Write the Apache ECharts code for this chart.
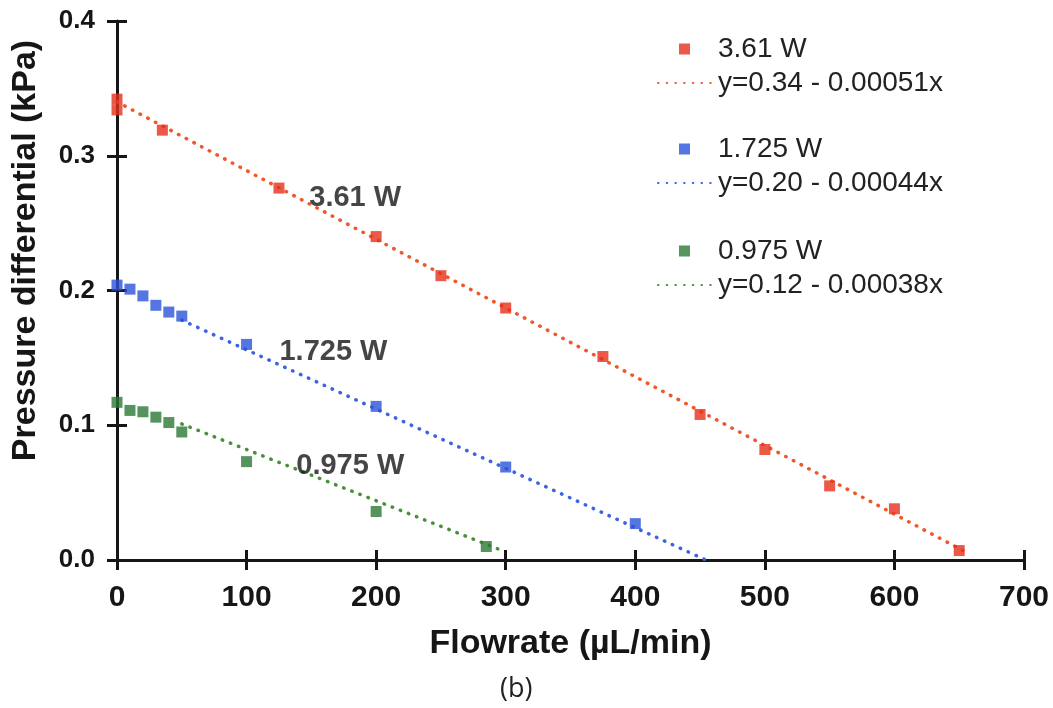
<!DOCTYPE html>
<html>
<head>
<meta charset="utf-8">
<script src="https://cdn.jsdelivr.net/npm/echarts@6/dist/echarts.min.js"></script>
<style>
  html, body { margin: 0; padding: 0; background: #ffffff; }
  #chart { width: 1053px; height: 708px; }
</style>
</head>
<body>
<div id="chart"></div>
<script>
// Measured pressure differential (kPa) against flowrate (µL/min) at three heater powers
const powerNames = ['3.61 W', '1.725 W', '0.975 W'];

const flowHigh  = [0, 0, 35, 125, 200, 250, 300, 375, 450, 500, 550, 600, 650];
const dpHigh    = [0.342, 0.334, 0.319, 0.276, 0.240, 0.211, 0.187, 0.151, 0.108, 0.082, 0.055, 0.038, 0.007];

const flowMid   = [0, 10, 20, 30, 40, 50, 100, 200, 300, 400];
const dpMid     = [0.204, 0.201, 0.196, 0.189, 0.184, 0.181, 0.160, 0.114, 0.069, 0.027];

const flowLow   = [0, 10, 20, 30, 40, 50, 100, 200, 285];
const dpLow     = [0.117, 0.111, 0.110, 0.106, 0.102, 0.095, 0.073, 0.036, 0.010];

// Linear fits, as given in the legend: y = intercept + slope * x
const fitNames      = ['y=0.34 - 0.00051x', 'y=0.20 - 0.00044x', 'y=0.12 - 0.00038x'];
const fitIntercepts = [0.34, 0.20, 0.12];
const fitSlopes     = [-0.00051, -0.00044, -0.00038];
const fitFrom       = [0, 50, 50];
const fitTo         = [655, 455, 296];

// In-plot annotations (data coordinates of the text's left edge)
const noteX = [148, 125, 138];
const noteY = [0.269, 0.154, 0.070];

const xTicks = { min: 0, max: 700, step: 100 };
const yTicks = { min: 0, max: 0.4, step: 0.1 };

const markerColors = ['#e6301a', '#2b52d9', '#2a7a34'];
const fitColors    = ['#f2572a', '#3b63e2', '#4b8f38'];

const FONT = '"Liberation Sans", Arial, Helvetica, sans-serif';
const INK = '#161616';

const pointSets = [
  [flowHigh, dpHigh],
  [flowMid, dpMid],
  [flowLow, dpLow]
];

const series = [];
pointSets.forEach(function (set, i) {
  series.push({
    name: powerNames[i],
    type: 'scatter',
    symbol: 'rect',
    symbolSize: 11,
    itemStyle: { color: markerColors[i] },
    z: 4,
    data: set[0].map(function (x, k) { return [x, set[1][k]]; })
  });
});
fitNames.forEach(function (name, i) {
  const ends = [fitFrom[i], fitTo[i]];
  series.push({
    name: name,
    type: 'line',
    symbol: 'none',
    silent: true,
    z: 3,
    lineStyle: { color: fitColors[i], width: 3.5, type: [0.5, 8.2], cap: 'round' },
    itemStyle: { color: fitColors[i] },
    data: ends.map(function (x) { return [x, fitIntercepts[i] + fitSlopes[i] * x]; })
  });
});
series.push({
  name: 'notes',
  type: 'scatter',
  symbolSize: 1,
  silent: true,
  itemStyle: { color: 'rgba(0,0,0,0)' },
  label: {
    show: true,
    position: 'right',
    distance: 0,
    fontFamily: FONT,
    fontWeight: 'bold',
    fontSize: 29,
    color: INK,
    formatter: function (p) { return p.value[2]; }
  },
  z: 5,
  data: powerNames.map(function (n, i) { return [noteX[i], noteY[i], n]; })
});

const squareIcon = 'path://M0,0H10V10H0Z';
const legendTops = [30, 130, 232];
const legends = powerNames.map(function (n, i) {
  return {
    orient: 'vertical',
    left: 652,
    top: legendTops[i],
    itemWidth: 53,
    itemHeight: 11,
    itemGap: 6,
    selectedMode: false,
    textStyle: { fontFamily: FONT, fontSize: 28, color: '#222', padding: [0, 0, 0, 2] },
    data: [
      { name: n, icon: squareIcon },
      { name: fitNames[i], itemStyle: { opacity: 0 } }
    ]
  };
});

const axisLineStyle = { color: INK, width: 3 };
const tickStyle = { color: INK, width: 3 };

// Grid 0 carries the data, the labelled axes and the outer half of each tick;
// grid 1 sits on the same rectangle and only adds the inner half of each tick.
const plotRect = { left: 117, right: 29, top: 21, bottom: 148, containLabel: false };

const option = {
  backgroundColor: '#ffffff',
  animation: false,
  title: {
    text: '(b)',
    left: 495,
    top: 671,
    textStyle: { fontFamily: '"Open Sans", "DejaVu Sans", sans-serif', fontWeight: 'normal', fontSize: 27, color: '#222' }
  },
  legend: legends,
  grid: [plotRect, Object.assign({}, plotRect)],
  xAxis: [
    {
      type: 'value',
      gridIndex: 0,
      position: 'bottom',
      min: xTicks.min, max: xTicks.max, interval: xTicks.step,
      name: 'Flowrate (µL/min)',
      nameLocation: 'middle',
      nameGap: 67,
      nameTextStyle: { fontFamily: FONT, fontWeight: 'bold', fontSize: 34, color: INK },
      axisLine: { lineStyle: axisLineStyle },
      axisTick: { length: 10, lineStyle: tickStyle },
      axisLabel: { fontFamily: FONT, fontWeight: 'bold', fontSize: 30, color: INK, margin: 23 },
      splitLine: { show: false }
    },
    {
      type: 'value',
      gridIndex: 1,
      position: 'bottom',
      min: xTicks.min, max: xTicks.max, interval: xTicks.step,
      axisLine: { show: false },
      axisTick: { inside: true, length: 10, lineStyle: tickStyle },
      axisLabel: { show: false },
      splitLine: { show: false }
    }
  ],
  yAxis: [
    {
      type: 'value',
      gridIndex: 0,
      position: 'left',
      min: yTicks.min, max: yTicks.max, interval: yTicks.step,
      name: 'Pressure differential (kPa)',
      nameLocation: 'middle',
      nameRotate: 90,
      nameGap: 74,
      nameTextStyle: {
        fontFamily: FONT, fontWeight: 'bold', fontSize: 34, color: INK,
        padding: [0, 0, 0, 80]
      },
      axisLine: { lineStyle: axisLineStyle },
      axisTick: { length: 10, lineStyle: tickStyle },
      axisLabel: {
        fontFamily: FONT, fontWeight: 'bold', fontSize: 26, color: INK, margin: 22,
        formatter: function (v) { return v.toFixed(1); }
      },
      splitLine: { show: false }
    },
    {
      type: 'value',
      gridIndex: 1,
      position: 'left',
      min: yTicks.min, max: yTicks.max, interval: yTicks.step,
      axisLine: { show: false },
      axisTick: { inside: true, length: 10, lineStyle: tickStyle },
      axisLabel: { show: false },
      splitLine: { show: false }
    }
  ],
  series: series
};

const chart = echarts.init(document.getElementById('chart'), null, { renderer: 'canvas' });
chart.setOption(option);
</script>
</body>
</html>
